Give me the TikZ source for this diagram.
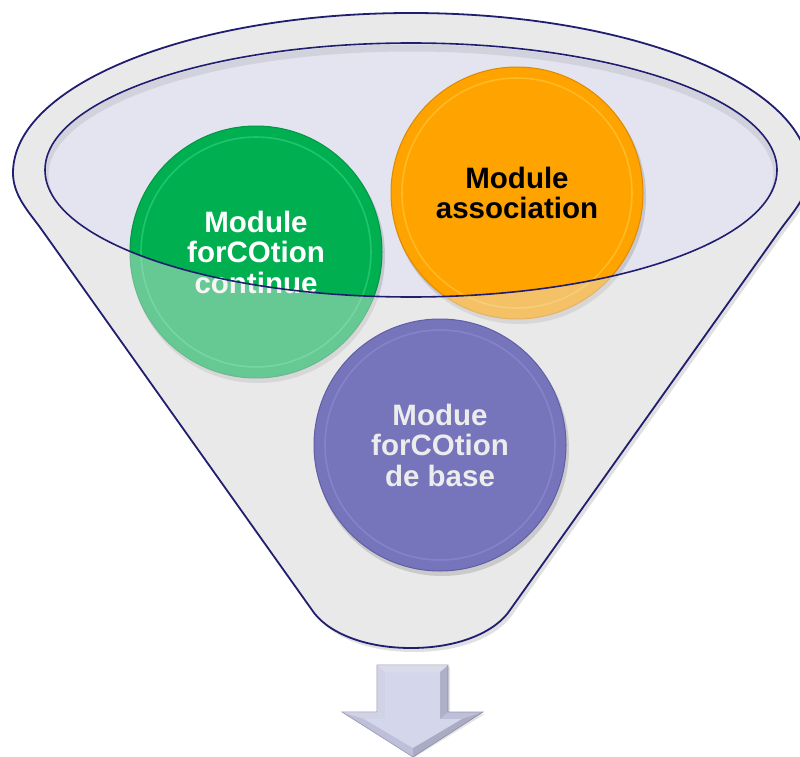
\documentclass[tikz,border=0pt]{standalone}
\usepackage{fontspec}
\setmainfont{Liberation Sans}
\usetikzlibrary{calc}
\definecolor{funnelgray}{RGB}{233,233,233}
\definecolor{innerfill}{RGB}{227,228,239}
\definecolor{navy}{RGB}{33,30,112}
\definecolor{grn}{RGB}{0,176,80}
\definecolor{grnlight}{RGB}{70,224,145}
\definecolor{grndark}{RGB}{0,150,68}
\definecolor{orng}{RGB}{255,163,0}
\definecolor{ornglight}{RGB}{255,214,80}
\definecolor{orngdark}{RGB}{222,138,0}
\definecolor{purp}{RGB}{118,116,186}
\definecolor{purplight}{RGB}{155,153,224}
\definecolor{purpdark}{RGB}{96,94,165}
\definecolor{purptext}{RGB}{236,236,236}
\definecolor{arrowbase}{RGB}{190,192,218}
\definecolor{arrowface}{RGB}{212,214,236}
\definecolor{arrowedge}{RGB}{150,152,180}
\begin{document}
\begin{tikzpicture}[x=1pt,y=-1pt,
  funnelshape/.style={insert path={(40.5,228) .. controls (28,211) and (13,195) .. (13,173)
     arc[start angle=180, end angle=0, x radius=398pt, y radius=160pt]
     .. controls (809,195) and (794,211) .. (781.5,228)
     -- (510,610) .. controls (497,630) and (462,648) .. (411,648)
     .. controls (360,648) and (325,630) .. (312,610) -- cycle}},
  ball/.style={circle, minimum size=252pt, inner sep=0pt, align=center,
     font=\fontsize{29.5}{30.5}\selectfont\bfseries},
  ballshadow/.style={fill=black, opacity=.13},
]
\useasboundingbox[fill=white] (0,0) rectangle (800,757);

% funnel body
\fill[black, opacity=.12, shift={(3,4)}, funnelshape];
\fill[funnelgray, funnelshape];
\fill[innerfill] (411,170) ellipse (366pt and 127pt);
\begin{scope}
  \clip (411,170) ellipse (366pt and 127pt);
  \draw[black, opacity=.08, line width=7pt] (411,175) ellipse (366pt and 127pt);
\end{scope}

% green and orange balls
\node[ball] (green) at (256,252) {};
\node[ball] (orange) at (517,193) {};
\fill[ballshadow] ($(green.center)+(2,4)$) circle (127pt);
\fill[ballshadow] ($(orange.center)+(2,4)$) circle (127pt);
\fill[grn] (green.center) circle (126pt);
\draw[grnlight, line width=1.6pt, opacity=.45] (green.center) circle (115pt);
\draw[grndark, line width=1pt] (green.center) circle (126pt);
\node[ball, text=white] (greentext) at (green.center) {Module\\forCOtion\\continue};
\fill[orng] (orange.center) circle (126pt);
\draw[ornglight, line width=1.6pt, opacity=.45] (orange.center) circle (115pt);
\draw[orngdark, line width=1pt] (orange.center) circle (126pt);
\node[ball, text=black] (orangetext) at (orange.center) {Module\\association};

% front face of funnel (fades what lies behind it)
\fill[funnelgray, fill opacity=.44, even odd rule, funnelshape] (411,170) ellipse (366pt and 127pt);

% purple ball
\node[ball] (purple) at (440,445) {};
\fill[ballshadow] ($(purple.center)+(2,4)$) circle (127pt);
\fill[purp] (purple.center) circle (126pt);
\draw[purplight, line width=1.6pt, opacity=.4] (purple.center) circle (115pt);
\draw[purpdark, line width=1pt] (purple.center) circle (126pt);
\node[ball, text=purptext] (purpletext) at (purple.center) {Modue\\forCOtion\\de base};

% outlines
\draw[navy, line width=1.8pt, funnelshape];
\draw[navy, line width=1.6pt] (411,170) ellipse (366pt and 127pt);

% arrow
\fill[black, opacity=.10] (379,667) -- (450,667) -- (450,714) -- (485,714) -- (415,757) -- (344,714) -- (379,714) -- cycle;
\draw[arrowedge, fill=arrowbase, line width=0.6pt] (377,665) -- (448,665) -- (448,712) -- (483,712) -- (413,757) -- (342,712) -- (377,712) -- cycle;
\fill[arrowface] (385,672) -- (440,672) -- (440,719) -- (462,719) -- (413,748) -- (364,719) -- (385,719) -- cycle;
\fill[white, opacity=.45] (377,665) -- (448,665) -- (440,672) -- (385,672) -- cycle;
\fill[white, opacity=.30] (377,665) -- (385,672) -- (385,719) -- (377,712) -- cycle;
\fill[white, opacity=.30] (342,712) -- (377,712) -- (385,719) -- (364,719) -- cycle;
\fill[black, opacity=.08] (448,665) -- (448,712) -- (440,719) -- (440,672) -- cycle;
\fill[black, opacity=.10] (483,712) -- (413,757) -- (413,748) -- (462,719) -- cycle;
\end{tikzpicture}
\end{document}
